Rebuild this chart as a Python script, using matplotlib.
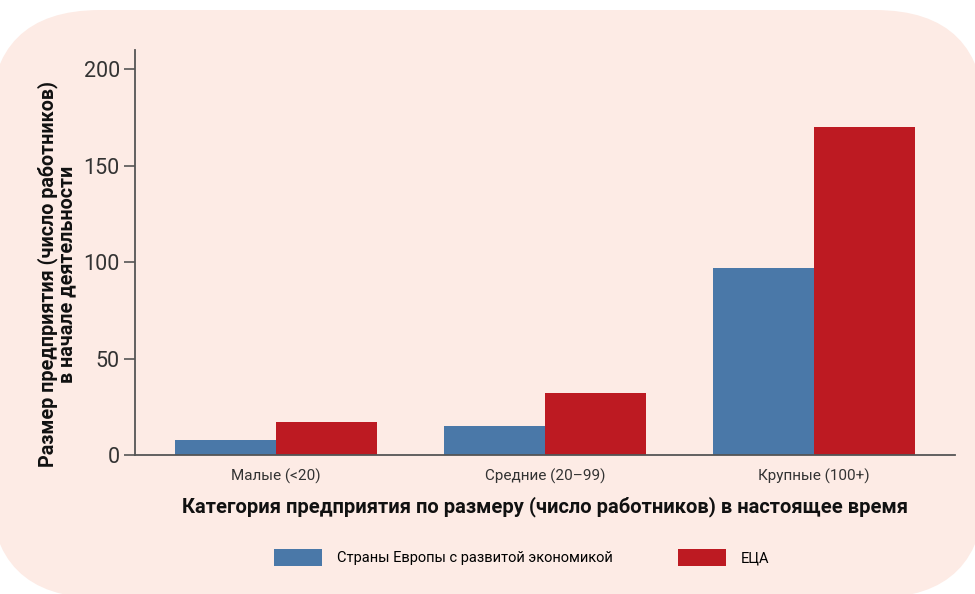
import numpy as np
import matplotlib
matplotlib.use("Agg")
import matplotlib.pyplot as plt
from matplotlib.patches import FancyBboxPatch, Patch

plt.rcParams['font.family'] = ['Roboto', 'DejaVu Sans']

categories = ['Малые (<20)', 'Средние (20–99)', 'Крупные (100+)']
europe = [8, 15, 97]
usa = [17, 32, 170]
series_names = ['Страны Европы с развитой экономикой', 'ЕЦА']
yticks = [0, 50, 100, 150, 200]

blue = '#4A78A8'
red = '#BD1A22'
bg = '#FDEBE5'

fig = plt.figure(figsize=(9.75, 5.94), dpi=100, facecolor='white')

# rounded panel behind everything, in inches so the corners stay circular
panel = FancyBboxPatch((-0.10, -0.04), 9.95, 5.88,
                       boxstyle="round,pad=0,rounding_size=1.1",
                       transform=fig.dpi_scale_trans,
                       facecolor=bg, edgecolor='none', zorder=-5)
fig.patches.append(panel)

ax = fig.add_axes([0.1385, 0.234, 0.841, 0.682], zorder=2)
ax.set_facecolor('none')

x = np.arange(len(categories))
w = 0.375
ax.bar(x - w / 2, europe, w, color=blue, zorder=2)
ax.bar(x + w / 2, usa, w, color=red, zorder=2)

ax.set_xlim(-0.524, 2.524)
ax.set_ylim(0, 210)
ax.set_yticks(yticks)
ax.set_xticks(x)
ax.set_xticklabels(categories, fontsize=11, color='#333333')
ax.tick_params(axis='x', length=0, pad=10)
ax.tick_params(axis='y', length=8, width=1.2, color='#555555',
               labelsize=15.5, labelcolor='#333333', pad=3)

for s in ['top', 'right']:
    ax.spines[s].set_visible(False)
for s in ['left', 'bottom']:
    ax.spines[s].set_color('#555555')
    ax.spines[s].set_linewidth(1.3)

ax.set_xlabel('Категория предприятия по размеру (число работников) в настоящее время',
              fontsize=14.5, fontweight='bold', color='#111111', labelpad=9)
ax.set_ylabel('Размер предприятия (число работников)\nв начале деятельности',
              fontsize=14.2, fontweight='bold', color='#111111',
              linespacing=0.9)
ax.yaxis.set_label_coords(-0.072, 0.447)

handles = [Patch(facecolor=blue, label=series_names[0]),
           Patch(facecolor=red, label=series_names[1])]
fig.legend(handles=handles, loc='center', bbox_to_anchor=(0.535, 0.062),
           ncol=2, frameon=False, fontsize=10.5, handlelength=3.3,
           handleheight=1.4, handletextpad=1.0, columnspacing=4.5)

fig.savefig('out.png', dpi=100, facecolor='white')
